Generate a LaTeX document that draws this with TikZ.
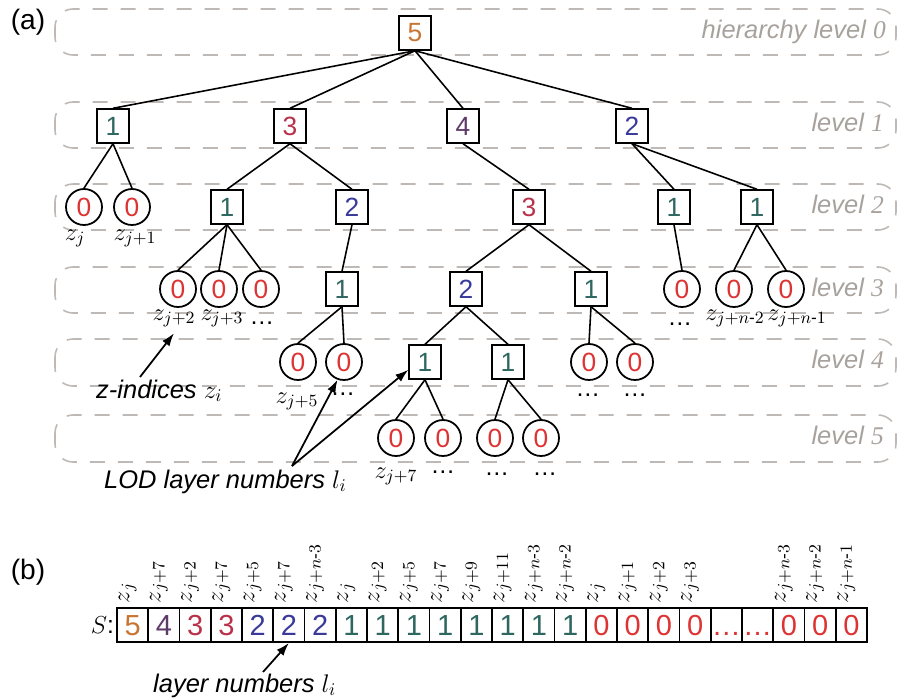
\RequirePackage{fix-cm}
\documentclass[tikz,border=0pt]{standalone}
\usepackage{amsmath}
\usepackage{fontspec}
\setmainfont{Liberation Sans}
\newfontfamily\serifface{Liberation Serif}
\usetikzlibrary{arrows.meta}

\definecolor{cfive}{RGB}{200,117,51}
\definecolor{cfour}{RGB}{94,58,104}
\definecolor{cthree}{RGB}{184,48,74}
\definecolor{ctwo}{RGB}{58,58,154}
\definecolor{cone}{RGB}{46,102,96}
\definecolor{czero}{RGB}{221,51,51}
\definecolor{bandgray}{RGB}{190,185,180}
\definecolor{lvlgray}{RGB}{168,162,157}

\tikzset{
  lod/.style  = {draw, line width=1.1pt, fill=white, inner sep=0pt,
                 minimum width=6.3mm, minimum height=6.7mm,
                 font=\fontsize{15}{18}\selectfont},
  zidx/.style = {draw, circle, line width=1pt, fill=white, inner sep=0pt,
                 minimum size=7.2mm, text=czero, font=\fontsize{15}{18}\selectfont},
  band/.style = {draw=bandgray, line width=0.9pt, dash pattern=on 3mm off 2.6mm,
                 rounded corners=3.6mm},
  lvl/.style  = {anchor=base east, text=lvlgray, font=\fontsize{14.5}{17}\selectfont\itshape},
  zl/.style   = {anchor=base, font=\fontsize{14}{16}\selectfont},
  note/.style = {anchor=base west, font=\fontsize{14.5}{17}\selectfont\itshape},
  tip/.style  = {-{Latex[length=2.6mm,width=1.8mm]}, line width=1pt},
  edge/.style = {line width=0.9pt},
  cell/.style = {draw, line width=1.1pt, minimum width=6.25mm, minimum height=6.8mm,
                 inner sep=0pt, text height=11.8pt, text depth=0pt,
                 font=\fontsize{16.5}{19}\selectfont},
  zrot/.style = {xshift=-1mm, rotate=90, anchor=west, inner sep=2pt,
                 font=\fontsize{14}{16}\selectfont}
}

\begin{document}
\begin{tikzpicture}[x=0.2mm, y=-0.2mm]
  \useasboundingbox (0,0) rectangle (904,699);

  % (a) the tree
  \node[font=\fontsize{16}{19}\selectfont] (taga) at (28,22) {(a)};

  \draw[band] (55,9)   rectangle (896,55);
  \draw[band] (55,102) rectangle (896,148);
  \draw[band] (55,184) rectangle (896,230);
  \draw[band] (55,267) rectangle (896,313);
  \draw[band] (55,339) rectangle (896,386);
  \draw[band] (55,415) rectangle (896,462);

  \node[lvl] (lv0) at (892,38)  {hierarchy level {\serifface 0}};
  \node[lvl] (lv1) at (890,131) {level {\serifface 1}};
  \node[lvl] (lv2) at (890,213) {level {\serifface 2}};
  \node[lvl] (lv3) at (890,296) {level {\serifface 3}};
  \node[lvl] (lv4) at (890,368) {level {\serifface 4}};
  \node[lvl] (lv5) at (890,444) {level {\serifface 5}};

  \node[lod, text=cfive] (r5) at (415,33) {5};

  \node[lod, text=cone]   (p1) at (113,126) {1};
  \node[lod, text=cthree] (p3) at (290,126) {3};
  \node[lod, text=cfour]  (p4) at (463,126) {4};
  \node[lod, text=ctwo]   (p2) at (632,126) {2};

  \node[zidx]             (q0a) at (84,207)  {0};
  \node[zidx]             (q0b) at (132,207) {0};
  \node[lod, text=cone]   (q1)  at (227,207) {1};
  \node[lod, text=ctwo]   (q2)  at (352,207) {2};
  \node[lod, text=cthree] (q3)  at (529,207) {3};
  \node[lod, text=cone]   (q1b) at (674,207) {1};
  \node[lod, text=cone]   (q1c) at (757,207) {1};

  \node[zidx]           (s0a) at (178,289) {0};
  \node[zidx]           (s0b) at (219,289) {0};
  \node[zidx]           (s0c) at (261,289) {0};
  \node[lod, text=cone] (s1)  at (342,289) {1};
  \node[lod, text=ctwo] (s2)  at (466,289) {2};
  \node[lod, text=cone] (s1b) at (591,289) {1};
  \node[zidx]           (s0d) at (682,289) {0};
  \node[zidx]           (s0e) at (734,289) {0};
  \node[zidx]           (s0f) at (786,289) {0};

  \node[zidx]           (t0a) at (298,362) {0};
  \node[zidx]           (t0b) at (344,362) {0};
  \node[lod, text=cone] (t1)  at (425,362) {1};
  \node[lod, text=cone] (t1b) at (508,362) {1};
  \node[zidx]           (t0c) at (589,362) {0};
  \node[zidx]           (t0d) at (635,362) {0};

  \node[zidx] (u0a) at (396,438) {0};
  \node[zidx] (u0b) at (443,438) {0};
  \node[zidx] (u0c) at (495,438) {0};
  \node[zidx] (u0d) at (541,438) {0};

  \foreach \a/\b in {r5/p1, r5/p3, r5/p4, r5/p2,
                     p1/q0a, p1/q0b, p3/q1, p3/q2, p4/q3, p2/q1b, p2/q1c,
                     q1/s0a, q1/s0b, q1/s0c, q2/s1, q3/s2, q3/s1b,
                     q1b/s0d, q1c/s0e, q1c/s0f,
                     s1/t0a, s1/t0b, s2/t1, s2/t1b, s1b/t0c, s1b/t0d,
                     t1/u0a, t1/u0b, t1b/u0c, t1b/u0d}
    \draw[edge] (\a.south) -- (\b.north);

  \node[zl] (zl0) at (75,240)  {$z_{j}$};
  \node[zl] (zl1) at (135,240) {$z_{j+1}$};
  \node[zl] (zl2) at (174,320) {$z_{j+2}$};
  \node[zl] (zl3) at (222,320) {$z_{j+3}$};
  \node[zl] (dt0) at (262,324) {\dots};
  \node[zl] (dt1) at (680,325) {\dots};
  \node[zl] (zl4) at (735,320) {$z_{j+n\text{-}2}$};
  \node[zl] (zl5) at (797,320) {$z_{j+n\text{-}1}$};
  \node[zl] (zl6) at (297,403) {$z_{j+5}$};
  \node[zl] (dt2) at (343,395) {\dots};
  \node[zl] (dt3) at (588,396) {\dots};
  \node[zl] (dt4) at (635,396) {\dots};
  \node[zl] (zl7) at (396,478) {$z_{j+7}$};
  \node[zl] (dt5) at (443,473) {\dots};
  \node[zl] (dt6) at (497,475) {\dots};
  \node[zl] (dt7) at (545,475) {\dots};

  \node[note] (zind) at (90,398) {z-indices $z_i$};
  \coordinate (zindtail) at (140,377);
  \draw[tip] (zindtail) -- (zl2.south);

  \node[note] (lodn) at (98,488) {LOD layer numbers $l_i$};
  \coordinate (lodtail) at (292,466);
  \draw[tip] (lodtail) -- (t0b.250);
  \draw[tip] (lodtail) -- (t1.205);

  % (b) the sorted array
  \node[font=\fontsize{16}{19}\selectfont] (tagb) at (28,572) {(b)};

  \foreach \v/\c/\z [count=\k] in {5/cfive/{$z_{j}$}, 4/cfour/{$z_{j+7}$},
      3/cthree/{$z_{j+2}$}, 3/cthree/{$z_{j+7}$},
      2/ctwo/{$z_{j+5}$}, 2/ctwo/{$z_{j+7}$}, 2/ctwo/{$z_{j+n\text{-}3}$},
      1/cone/{$z_{j}$}, 1/cone/{$z_{j+2}$}, 1/cone/{$z_{j+5}$}, 1/cone/{$z_{j+7}$},
      1/cone/{$z_{j+9}$}, 1/cone/{$z_{j+11}$}, 1/cone/{$z_{j+n\text{-}3}$},
      1/cone/{$z_{j+n\text{-}2}$},
      0/czero/{$z_{j}$}, 0/czero/{$z_{j+1}$}, 0/czero/{$z_{j+2}$}, 0/czero/{$z_{j+3}$},
      \dots/czero/{}, \dots/czero/{},
      0/czero/{$z_{j+n\text{-}3}$}, 0/czero/{$z_{j+n\text{-}2}$}, 0/czero/{$z_{j+n\text{-}1}$}}
  {
    \node[cell, text=\c] (c\k) at ({101.35+31.25*\k},625) {\v};
    \node[zrot] (zc\k) at (c\k.north) {\z};
  }

  \node[anchor=east, inner sep=1pt, font=\fontsize{14}{17}\selectfont] (slab) at (c1.west) {$S$:};

  \node[note] (lnum) at (147,692) {layer numbers $l_i$};
  \coordinate (lnumtail) at (263,672);
  \draw[tip] (lnumtail) -- (c6.south);
\end{tikzpicture}
\end{document}
